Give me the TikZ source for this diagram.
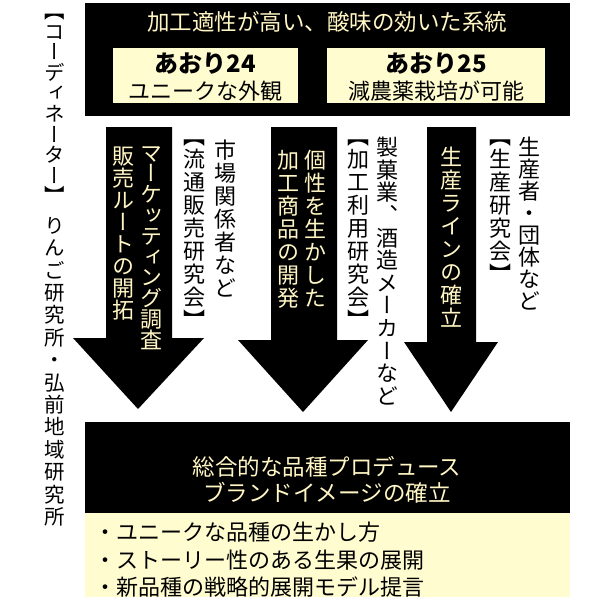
\documentclass[tikz,border=0pt]{standalone}
\usepackage{fontspec}
\usepackage{graphicx}
\setmainfont{Noto Sans CJK JP}
\newfontfamily\jp{Noto Sans CJK JP}
\newfontfamily\vjp[RawFeature=+vert]{Noto Sans CJK JP}
\definecolor{creamfill}{RGB}{255,252,208}
\definecolor{creamtext}{RGB}{255,246,196}
\ExplSyntaxOn
\NewDocumentCommand\vt{O{23pt}m}{
  \vbox{\baselineskip=#1 \lineskiplimit=-100pt \lineskip=0pt
    \tl_map_inline:nn {#2} {\hbox_to_wd:nn {1em} {\hss ##1 \hss}}}
}
\ExplSyntaxOff
\begin{document}
\begin{tikzpicture}[x=1pt,y=-1pt,
  blk/.style={fill=black,draw=none,inner sep=0pt},
  crm/.style={fill=creamfill,draw=none,inner sep=0pt},
  ltxt/.style={text=creamtext,inner sep=0pt,font=\jp\fontsize{22.5}{24}\selectfont},
  dtxt/.style={text=black,inner sep=0pt,font=\jp\fontsize{22}{24}\selectfont},
  btxt/.style={text=black,inner sep=0pt,font=\jp\bfseries\fontsize{24}{26}\selectfont},
  vl/.style={text=creamtext,inner sep=0pt,anchor=north,font=\vjp\fontsize{22}{23}\selectfont},
  vd/.style={text=black,inner sep=0pt,anchor=north,font=\vjp\fontsize{22}{23}\selectfont},
  bigarrow/.style={fill=black,draw=none}]
\useasboundingbox (0,0) rectangle (600,600);
\fill[white] (0,0) rectangle (600,600);

% top box
\node[blk,minimum width=485pt,minimum height=113pt] (top) at (327.5,59) {};
\node[ltxt] (title) at (327,22) {加工適性が高い、酸味の効いた系統};
\node[crm,minimum width=185pt,minimum height=55pt] (a24) at (205.5,75.5) {};
\node[btxt] (a24n) at (205.5,64) {あおり24};
\node[dtxt] (a24t) at (205.5,91) {ユニークな外観};
\node[crm,minimum width=218pt,minimum height=55pt] (a25) at (436,75.5) {};
\node[btxt] (a25n) at (436,64) {あおり25};
\node[dtxt] (a25t) at (436,91) {減農薬栽培が可能};

% arrows
\fill[bigarrow] (106,127) -- (172,127) -- (172,338) -- (204,338) -- (138,409) -- (73,338) -- (106,338) -- cycle;
\fill[bigarrow] (271,127) -- (337,127) -- (337,340) -- (368,340) -- (303,412) -- (238,340) -- (271,340) -- cycle;
\fill[bigarrow] (427,127) -- (476,127) -- (476,342) -- (498,342) -- (451,412) -- (404,342) -- (427,342) -- cycle;

% arrow texts
\node[vl] (m1) at (151,146) {\vt[20.8pt]{マーケッティング調査}};
\node[vl] (m2) at (123,147) {\vt[22pt]{販売ルートの開拓}};
\node[vd] (r1) at (225,140) {\vt{市場関係者など}};
\node[vd] (r2) at (194,140) {\vt{【流通販売研究会】}};
\node[vl] (k1) at (315,150) {\vt{個性を生かした}};
\node[vl] (k2) at (288,150) {\vt{加工商品の開発}};
\node[vd] (s1) at (387,137) {\vt[22.6pt]{製菓業、酒造メーカーなど}};
\node[vd] (s2) at (358,140) {\vt{【加工利用研究会】}};
\node[vl] (p1) at (451,147) {\vt{生産ラインの確立}};
\node[vd] (q1) at (529,137) {\vt[22pt]{生産者・団体など}};
\node[vd] (q2) at (500,140) {\vt{【生産研究会】}};

% left column
\node[vd,font=\vjp\fontsize{20.5}{21}\selectfont] (coord) at (55,14) {\vt[20.6pt]{【コーディネーター】}};
\node[vd,font=\vjp\fontsize{20.5}{21}\selectfont] (inst) at (55,217) {\vt[22.4pt]{りんご研究所・弘前地域研究所}};

% bottom box
\node[crm,minimum width=485pt,minimum height=175pt] (bot) at (327.5,509.5) {};
\node[blk,minimum width=485pt,minimum height=91pt] (botb) at (327.5,467.5) {};
\node[ltxt] (g1) at (327,467) {総合的な品種プロデュース};
\node[ltxt] (g2) at (327,493) {ブランドイメージの確立};
\node[dtxt,anchor=west] (b1) at (94,532) {・ユニークな品種の生かし方};
\node[dtxt,anchor=west] (b2) at (94,560) {・ストーリー性のある生果の展開};
\node[dtxt,anchor=west] (b3) at (94,587) {・新品種の戦略的展開モデル提言};
\end{tikzpicture}
\end{document}
